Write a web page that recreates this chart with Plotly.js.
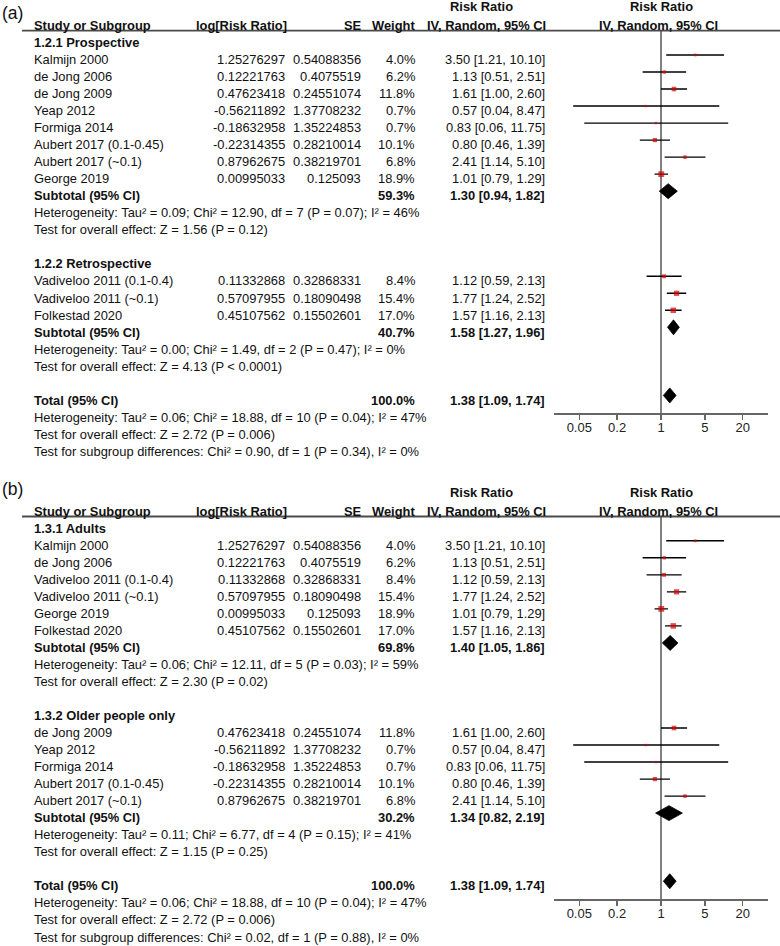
<!DOCTYPE html>
<html><head><meta charset="utf-8">
<script src="https://cdn.plot.ly/plotly-3.0.1.min.js"></script>
<style>html,body{margin:0;padding:0;background:#fff}#chart{width:780px;height:946px}</style>
</head><body><div id="chart"></div>
<script>
// ---------- DATA ----------
const studyNames = ['Kalmijn 2000','de Jong 2006','de Jong 2009','Yeap 2012','Formiga 2014',
  'Aubert 2017 (0.1-0.45)','Aubert 2017 (~0.1)','George 2019',
  'Vadiveloo 2011 (0.1-0.4)','Vadiveloo 2011 (~0.1)','Folkestad 2020'];
const logRR = [1.25276297,0.12221763,0.47623418,-0.56211892,-0.18632958,-0.22314355,0.87962675,0.00995033,0.11332868,0.57097955,0.45107562];
const seVals = [0.54088356,0.4075519,0.24551074,1.37708232,1.35224853,0.28210014,0.38219701,0.125093,0.32868331,0.18090498,0.15502601];
const weights = [4.0,6.2,11.8,0.7,0.7,10.1,6.8,18.9,8.4,15.4,17.0];
const rrVals = [3.50,1.13,1.61,0.57,0.83,0.80,2.41,1.01,1.12,1.77,1.57];
const ciLow  = [1.21,0.51,1.00,0.04,0.06,0.46,1.14,0.79,0.59,1.24,1.16];
const ciHigh = [10.10,2.51,2.60,8.47,11.75,1.39,5.10,1.29,2.13,2.52,2.13];

const panelLabels = ['(a)','(b)'];
const groupTitles = [['1.2.1 Prospective','1.2.2 Retrospective'],['1.3.1 Adults','1.3.2 Older people only']];
const groupMembers = [[[0,1,2,3,4,5,6,7],[8,9,10]],[[0,1,8,9,7,10],[2,3,4,5,6]]];
const subWeights = [[59.3,40.7],[69.8,30.2]];
const subRR   = [[1.30,1.58],[1.40,1.34]];
const subLow  = [[0.94,1.27],[1.05,0.82]];
const subHigh = [[1.82,1.96],[1.86,2.19]];
const subHet = [
  ['Heterogeneity: Tau² = 0.09; Chi² = 12.90, df = 7 (P = 0.07); I² = 46%',
   'Heterogeneity: Tau² = 0.00; Chi² = 1.49, df = 2 (P = 0.47); I² = 0%'],
  ['Heterogeneity: Tau² = 0.06; Chi² = 12.11, df = 5 (P = 0.03); I² = 59%',
   'Heterogeneity: Tau² = 0.11; Chi² = 6.77, df = 4 (P = 0.15); I² = 41%']];
const subTest = [
  ['Test for overall effect: Z = 1.56 (P = 0.12)','Test for overall effect: Z = 4.13 (P < 0.0001)'],
  ['Test for overall effect: Z = 2.30 (P = 0.02)','Test for overall effect: Z = 1.15 (P = 0.25)']];
const totalWeight = 100.0, totalRR = 1.38, totalLow = 1.09, totalHigh = 1.74;
const totalHet = 'Heterogeneity: Tau² = 0.06; Chi² = 18.88, df = 10 (P = 0.04); I² = 47%';
const totalTest = 'Test for overall effect: Z = 2.72 (P = 0.006)';
const subgroupDiff = ['Test for subgroup differences: Chi² = 0.90, df = 1 (P = 0.34), I² = 0%',
                      'Test for subgroup differences: Chi² = 0.02, df = 1 (P = 0.88), I² = 0%'];
const tickVals = [0.05,0.2,1,5,20];
const tickLabels = ['0.05','0.2','1','5','20'];

// ---------- LAYOUT CONSTANTS ----------
const W = 780, H = 946;
const ROW = 17.02, MARK0 = 20.96, TEXT0 = 25.7;
const panelOffset = [0, 485.8];
const labelY = [13.3, 489];
const AX_TOP = 30.7, AX_BOT = 413.3;
const FONT = 'Liberation Sans, Arial, Helvetica, sans-serif';
const FS = 12.9;
const X_STUDY = 34, X_LOG = 285, X_SE = 361.3, X_W = 414.8, X_CI = 545, X_RR_HDR = 481;
const X_FOREST_HDR1 = 661.5, X_FOREST_HDR2 = 658;
const XDOM = [554.3/W, 767.7/W];
const SQ_COLOR = '#d40000';
const DIAMOND_H = 0.44;

const py = px => 1 - px / H;
const annotations = [], shapes = [], traces = [];

function txt(text, xpx, ypx, anchor, bold, size, color) {
  annotations.push({
    text: bold ? '<b>' + text + '</b>' : text,
    x: xpx / W, y: py(ypx), xref: 'paper', yref: 'paper',
    xanchor: anchor, yanchor: 'middle', showarrow: false,
    borderpad: 0, borderwidth: 0,
    font: {family: FONT, size: size || FS, color: color || '#111'}
  });
}
const ciText = (e, l, h) => e.toFixed(2) + ' [' + l.toFixed(2) + ', ' + h.toFixed(2) + ']';

for (let p = 0; p < 2; p++) {
  const off = panelOffset[p];
  const tY = r => off + TEXT0 + r * ROW;
  const xa = p === 0 ? 'x' : 'x2', ya = p === 0 ? 'y' : 'y2';

  // panel label + headers
  txt(panelLabels[p], 1.5, labelY[p], 'left', false, 17.5);
  txt('Risk Ratio', X_RR_HDR, off + 6.7, 'center', true);
  txt('Risk Ratio', X_FOREST_HDR1, off + 6.7, 'center', true);
  txt('Study or Subgroup', X_STUDY, tY(0), 'left', true);
  txt('log[Risk Ratio]', X_LOG + 1.5, tY(0), 'right', true);
  txt('SE', X_SE + 0.5, tY(0), 'right', true);
  txt('Weight', X_W + 0.5, tY(0), 'right', true);
  txt('IV, Random, 95% CI', X_CI + 0.5, tY(0), 'right', true);
  txt('IV, Random, 95% CI', X_FOREST_HDR2, tY(0), 'center', true);
  shapes.push({type: 'line', xref: 'paper', yref: 'paper', x0: 22/W, x1: 1,
    y0: py(off + AX_TOP), y1: py(off + AX_TOP), line: {color: '#4a4a4a', width: 1.8}});
  shapes.push({type: 'line', xref: xa, yref: ya + ' domain', x0: 1, x1: 1, y0: 0, y1: 1,
    layer: 'below', line: {color: '#808080', width: 2}});

  let r = 1;
  const sx = [], sy = [], sz = [], ep = [], em = [];
  const diamonds = [];
  for (let g = 0; g < 2; g++) {
    txt(groupTitles[p][g], X_STUDY, tY(r), 'left', true); r++;
    for (const i of groupMembers[p][g]) {
      txt(studyNames[i], X_STUDY, tY(r), 'left');
      txt(String(logRR[i]), X_LOG, tY(r), 'right');
      txt(String(seVals[i]), X_SE, tY(r), 'right');
      txt(weights[i].toFixed(1) + '%', X_W, tY(r), 'right');
      txt(ciText(rrVals[i], ciLow[i], ciHigh[i]), X_CI, tY(r), 'right');
      sx.push(rrVals[i]); sy.push(r); sz.push(Math.max(2.3, 1.34 * Math.sqrt(weights[i])));
      ep.push(ciHigh[i] - rrVals[i]); em.push(rrVals[i] - ciLow[i]);
      r++;
    }
    txt('Subtotal (95% CI)', X_STUDY, tY(r), 'left', true);
    txt(subWeights[p][g].toFixed(1) + '%', X_W, tY(r), 'right', true);
    txt(ciText(subRR[p][g], subLow[p][g], subHigh[p][g]), X_CI, tY(r), 'right', true);
    diamonds.push([subRR[p][g], subLow[p][g], subHigh[p][g], r]);
    r++;
    txt(subHet[p][g], X_STUDY, tY(r), 'left'); r++;
    txt(subTest[p][g], X_STUDY, tY(r), 'left'); r++;
    r++;
  }
  txt('Total (95% CI)', X_STUDY, tY(r), 'left', true);
  txt(totalWeight.toFixed(1) + '%', X_W, tY(r), 'right', true);
  txt(ciText(totalRR, totalLow, totalHigh), X_CI, tY(r), 'right', true);
  diamonds.push([totalRR, totalLow, totalHigh, r]);
  r++;
  txt(totalHet, X_STUDY, tY(r), 'left'); r++;
  txt(totalTest, X_STUDY, tY(r), 'left'); r++;
  txt(subgroupDiff[p], X_STUDY, tY(r), 'left'); r++;

  traces.push({
    type: 'scatter', mode: 'markers', x: sx, y: sy, xaxis: xa, yaxis: ya,
    marker: {symbol: 'square', size: sz, color: SQ_COLOR, line: {width: 0}},
    error_x: {type: 'data', symmetric: false, array: ep, arrayminus: em,
      width: 0, thickness: 1.4, color: '#000'},
    hoverinfo: 'skip', cliponaxis: false
  });
  for (const [e, l, h, rr] of diamonds) {
    traces.push({
      type: 'scatter', mode: 'lines', xaxis: xa, yaxis: ya,
      x: [l, e, h, e, l], y: [rr, rr - DIAMOND_H, rr, rr + DIAMOND_H, rr],
      fill: 'toself', fillcolor: '#000', line: {color: '#000', width: 0.8},
      hoverinfo: 'skip'
    });
  }
}

function xAxis(anchor) {
  return {domain: XDOM, type: 'log', range: [Math.log10(0.02), Math.log10(50)], anchor: anchor,
    tickvals: tickVals, ticktext: tickLabels, ticks: 'outside', ticklen: 5, tickwidth: 1.5,
    tickcolor: '#666', showline: true, linecolor: '#666', linewidth: 1.5,
    ticklabelstandoff: -3,
    showgrid: false, zeroline: false, fixedrange: true,
    tickfont: {family: FONT, size: 13, color: '#222'}};
}
function yAxis(off) {
  const rTop = (AX_TOP - MARK0) / ROW, rBot = (AX_BOT - MARK0) / ROW;
  return {domain: [py(off + AX_BOT), py(off + AX_TOP)], range: [rBot, rTop],
    visible: false, fixedrange: true, showgrid: false, zeroline: false};
}

const layout = {
  width: W, height: H, margin: {l: 0, r: 0, t: 0, b: 0},
  paper_bgcolor: '#fff', plot_bgcolor: 'rgba(0,0,0,0)', showlegend: false,
  xaxis: xAxis('y'), yaxis: yAxis(panelOffset[0]),
  xaxis2: xAxis('y2'), yaxis2: yAxis(panelOffset[1]),
  annotations: annotations, shapes: shapes,
  font: {family: FONT, size: FS, color: '#111'}
};
Plotly.newPlot('chart', traces, layout, {displayModeBar: false, staticPlot: true});
</script></body></html>
